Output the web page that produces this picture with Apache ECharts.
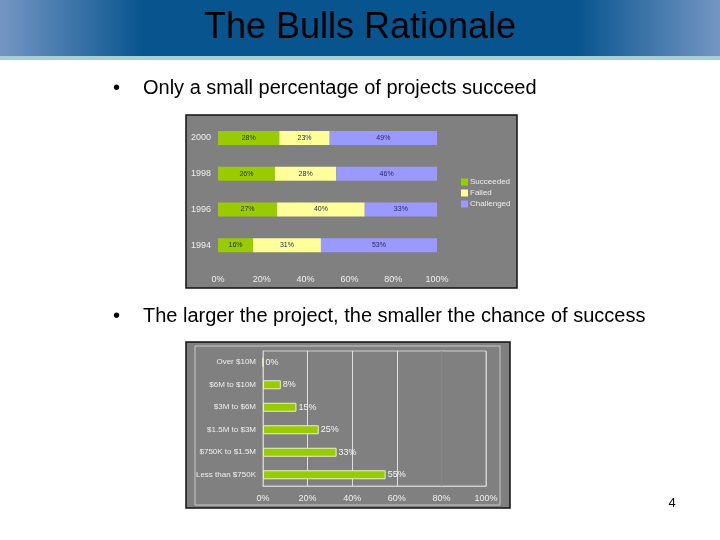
<!DOCTYPE html>
<html>
<head>
<meta charset="utf-8">
<script src="https://cdn.jsdelivr.net/npm/echarts@6/dist/echarts.min.js"></script>
<style>html,body{margin:0;padding:0;background:#fff}#c{width:720px;height:540px}</style>
</head>
<body>
<div id="c"></div>
<script>
// ---- Data ----
var slideTitle = 'The Bulls Rationale';
var bullet1 = 'Only a small percentage of projects succeed';
var bullet2 = 'The larger the project, the smaller the chance of success';
var pageNumber = '4';

var years = ['1994', '1996', '1998', '2000'];
var succeeded = [16, 27, 26, 28];
var failed = [31, 40, 28, 23];
var challenged = [53, 33, 46, 49];
var statusNames = ['Succeeded', 'Failed', 'Challenged'];

var sizeCategories = ['Less than $750K', '$750K to $1.5M', '$1.5M to $3M', '$3M to $6M', '$6M to $10M', 'Over $10M'];
var sizeSuccess = [55, 33, 25, 15, 8, 0];

var pctTicks = [0, 20, 40, 60, 80, 100];

// ---- Chart ----
var chart = echarts.init(document.getElementById('c'), null, {renderer: 'canvas'});
var F = 'Liberation Sans, Arial, sans-serif';
var small = 'Liberation Sans, DejaVu Sans, sans-serif';

var option = {
  animation: false,
  backgroundColor: '#ffffff',
  graphic: [
    {type: 'rect', z: -10, shape: {x: 0, y: 0, width: 720, height: 57},
     style: {fill: new echarts.graphic.LinearGradient(0, 0, 1, 0, [
       {offset: 0, color: '#7496c4'}, {offset: 0.2, color: '#07548f'},
       {offset: 0.8, color: '#07548f'}, {offset: 1, color: '#7496c4'}])}},
    {type: 'rect', z: -10, shape: {x: 0, y: 56, width: 720, height: 4},
     style: {fill: '#a9cfd0'}},
    // chart 1 background
    {type: 'rect', z: -5, shape: {x: 186, y: 115, width: 331, height: 173},
     style: {fill: '#808080', stroke: '#111', lineWidth: 1.5}},
    // chart 2 background
    {type: 'rect', z: -5, shape: {x: 186, y: 342, width: 324, height: 166},
     style: {fill: '#808080', stroke: '#111', lineWidth: 1.5}},
    {type: 'rect', z: -4, shape: {x: 195, y: 346, width: 305, height: 159},
     style: {fill: 'none', stroke: '#c8c8c8', lineWidth: 1}},
    {type: 'text', x: 360, y: 28, style: {text: slideTitle, font: '36px ' + F, fill: '#000', align: 'center', verticalAlign: 'middle'}},
    {type: 'text', x: 113, y: 88, style: {text: '\u2022', font: '20px ' + F, fill: '#000', verticalAlign: 'middle'}},
    {type: 'text', x: 143, y: 88, style: {text: bullet1, font: '20px ' + F, fill: '#000', verticalAlign: 'middle'}},
    {type: 'text', x: 113, y: 316, style: {text: '\u2022', font: '20px ' + F, fill: '#000', verticalAlign: 'middle'}},
    {type: 'text', x: 143, y: 316, style: {text: bullet2, font: '20px ' + F, fill: '#000', verticalAlign: 'middle'}},
    {type: 'text', x: 672, y: 503, style: {text: pageNumber, font: '13px ' + F, fill: '#000', align: 'center', verticalAlign: 'middle'}}
  ],
  legend: {
    data: statusNames, orient: 'vertical', left: 456, top: 173,
    itemWidth: 7, itemHeight: 7, itemGap: 3, icon: 'rect',
    textStyle: {color: '#eeeeee', fontSize: 8, fontFamily: small, padding: [0, 0, 0, -3]}
  },
  grid: [
    {left: 218, top: 120, width: 219, height: 143},
    {left: 263, top: 351, width: 223, height: 135, show: true, borderColor: '#d0d0d0', borderWidth: 1, backgroundColor: 'transparent'}
  ],
  xAxis: [
    {gridIndex: 0, type: 'value', min: 0, max: 100, interval: 20,
     axisLine: {show: false}, axisTick: {show: false}, splitLine: {show: false},
     axisLabel: {color: '#eeeeee', fontSize: 9, fontFamily: small, margin: 12, formatter: '{value}%'}},
    {gridIndex: 1, type: 'value', min: 0, max: 100, interval: 20,
     axisLine: {show: true, lineStyle: {color: '#d0d0d0'}}, axisTick: {show: false},
     splitLine: {show: true, lineStyle: {color: ['#d0d0d0', '#e0e0e0', '#e0e0e0', '#e0e0e0', '#878787', '#d0d0d0'], width: 1}},
     axisLabel: {color: '#eeeeee', fontSize: 9, fontFamily: small, margin: 8, formatter: '{value}%'}}
  ],
  yAxis: [
    {gridIndex: 0, type: 'category', data: years,
     axisLine: {show: false}, axisTick: {show: false},
     axisLabel: {color: '#eeeeee', fontSize: 9, fontFamily: small, margin: 7}},
    {gridIndex: 1, type: 'category', data: sizeCategories,
     axisLine: {show: true, lineStyle: {color: '#d0d0d0'}}, axisTick: {show: false},
     axisLabel: {color: '#eeeeee', fontSize: 8, fontFamily: small, margin: 7}}
  ],
  series: [
    {name: statusNames[0], type: 'bar', stack: 'y', xAxisIndex: 0, yAxisIndex: 0, data: succeeded, barWidth: 14,
     itemStyle: {color: '#99cc00'},
     label: {show: true, position: 'inside', color: '#2a2a55', fontSize: 7, fontFamily: small, formatter: '{c}%'}},
    {name: statusNames[1], type: 'bar', stack: 'y', xAxisIndex: 0, yAxisIndex: 0, data: failed, barWidth: 14,
     itemStyle: {color: '#ffff99'},
     label: {show: true, position: 'inside', color: '#2a2a55', fontSize: 7, fontFamily: small, formatter: '{c}%'}},
    {name: statusNames[2], type: 'bar', stack: 'y', xAxisIndex: 0, yAxisIndex: 0, data: challenged, barWidth: 14,
     itemStyle: {color: '#9999ff'},
     label: {show: true, position: 'inside', color: '#2a2a55', fontSize: 7, fontFamily: small, formatter: '{c}%'}},
    {name: 'Size', type: 'bar', xAxisIndex: 1, yAxisIndex: 1, data: sizeSuccess, barWidth: 9,
     itemStyle: {color: '#99cc00', borderColor: '#e6f2c0', borderWidth: 1},
     label: {show: true, position: 'right', distance: 2, color: '#f4f4f4', fontSize: 9, fontFamily: small, formatter: '{c}%'}}
  ]
};
chart.setOption(option);
</script>
</body>
</html>
